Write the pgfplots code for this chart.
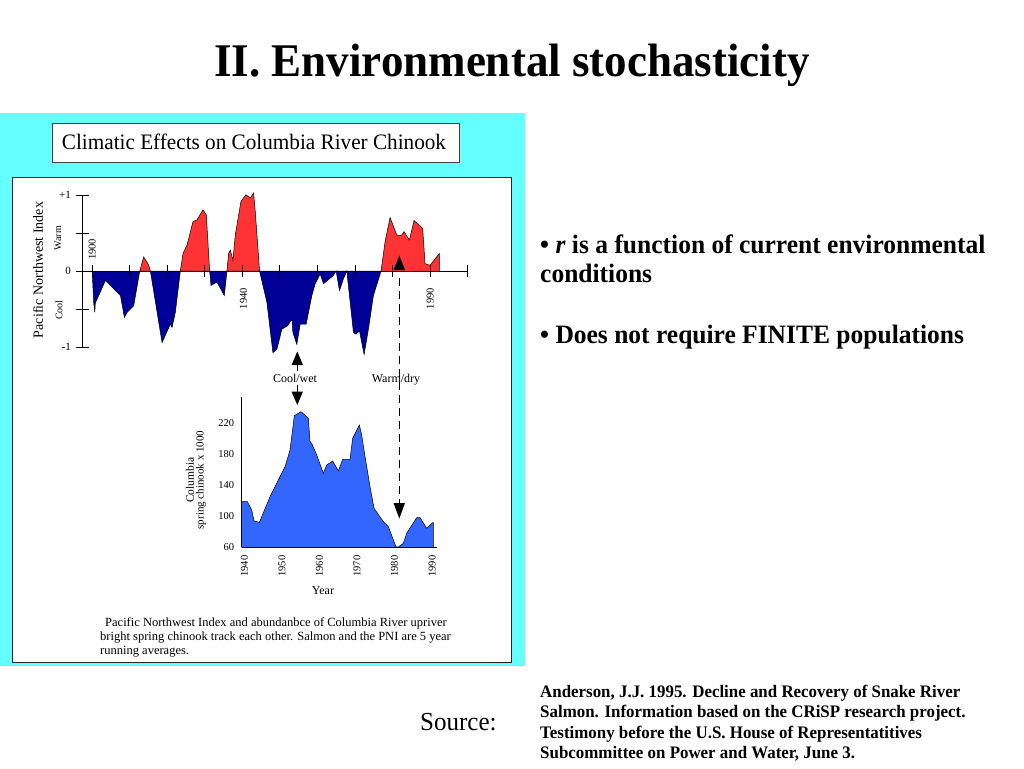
\documentclass[border=0pt]{standalone}
\usepackage{fontspec}
\setmainfont{Liberation Serif}
\usepackage{graphicx}
\usepackage{pgfplots}
\pgfplotsset{compat=1.18}
\definecolor{cyanbg}{HTML}{66FFFF}
\definecolor{pniblue}{HTML}{000099}
\definecolor{pnired}{HTML}{FF3333}
\definecolor{salmonblue}{HTML}{3366FF}
\newcommand{\fs}[1]{\fontsize{#1}{#1}\selectfont}
\newcommand{\vs}[1]{\scalebox{1}[1.04]{#1}}
\begin{document}
\begin{tikzpicture}
\path[use as bounding box] (0pt,0pt) rectangle (1024pt,-768pt);
% slide title
\node[anchor=base,inner sep=0pt] at (512pt,-76pt) {\vs{\fs{45}\bfseries II. Environmental stochasticity}};
% panel
\fill[cyanbg] (0pt,-113pt) rectangle (525pt,-666pt);
\draw[fill=white, line width=1pt, draw=black!85] (12pt,-177pt) rectangle (511pt,-662pt);
\draw[fill=white, line width=0.8pt, draw=black!75] (52pt,-123pt) rectangle (459pt,-162pt);
\node[anchor=base,inner sep=0pt] at (254pt,-149pt) {\vs{\fs{21.2}Climatic Effects on Columbia River Chinook}};

% ---------- Pacific Northwest Index ----------
\begin{axis}[at={(82pt,-347pt)}, anchor=south west, scale only axis,
  width=386pt, height=152pt, xmin=1897.3, xmax=2000.1, ymin=-1, ymax=1,
  hide axis, clip=false]
\addplot[fill=pnired, draw=black, line width=0.5pt] coordinates {
(1912.68,0) (1913.74,0.186) (1915.07,0.075) (1915.51,0)
(1923.49,0) (1924.20,0.230) (1925.27,0.341) (1926.86,0.650) (1927.93,0.673) (1929.52,0.805) (1930.41,0.739) (1931.29,0)
(1935.90,0) (1936.35,0.230) (1936.79,0.274) (1937.50,0.142) (1938.12,0.473) (1939.63,0.915) (1940.96,1.004) (1942.11,0.960) (1943.00,1.027) (1943.44,0.783) (1944.59,0)
(1976.95,0) (1978.01,0.385) (1979.34,0.704) (1981.12,0.473) (1982.45,0.473) (1983.07,0.518) (1984.49,0.407) (1985.73,0.664) (1988.03,0.562) (1988.65,0.097) (1990.00,0.075) (1992.46,0.230) (1992.46,0)
};
\addplot[fill=pniblue, draw=black, line width=0.5pt] coordinates {
(1900.0,0) (1900.44,-0.434) (1900.71,-0.544) (1900.85,-0.42) (1903.55,-0.124) (1907.54,-0.323) (1908.60,-0.611) (1909.31,-0.544) (1911.08,-0.456) (1912.68,0)
(1915.51,0) (1918.62,-0.942) (1920.83,-0.699) (1921.28,-0.743) (1922.16,-0.544) (1923.49,0)
(1931.29,0) (1931.65,-0.190) (1933.24,-0.146) (1935.20,-0.323) (1935.90,0)
(1944.59,0) (1946.54,-0.412) (1948.14,-1.075) (1949.20,-1.031) (1950.53,-0.765) (1952.04,-0.721) (1953.19,-0.633) (1953.46,-0.810) (1954.52,-0.965) (1955.41,-0.699) (1957.00,-0.699) (1958.51,-0.323) (1959.40,-0.168) (1960.73,-0.04) (1961.61,-0.168) (1964.27,-0.058) (1964.98,0) (1965.87,-0.257) (1966.93,-0.102) (1967.82,0) (1969.59,-0.810) (1970.30,-0.832) (1971.19,-0.788) (1972.43,-1.097) (1973.58,-0.765) (1974.91,-0.323) (1976.95,0)
};
\draw[line width=0.8pt] (axis cs:1897.3,0) ++(-6pt,0pt) -- (axis cs:2000,0);
\draw[line width=0.8pt] (axis cs:1897.3,-1) -- (axis cs:1897.3,1);
\pgfplotsinvokeforeach{-1,-0.5,0,0.5,1}{\draw[line width=0.8pt] (axis cs:1897.3,#1) ++(-6pt,0pt) -- ++(13pt,0pt);}
\pgfplotsinvokeforeach{1900,1910,1920,1930,1940,1950,1960,1970,1980,1990,2000}{\draw[line width=0.8pt] (axis cs:#1,0) ++(0pt,-6pt) -- ++(0pt,12pt);}
\node[anchor=east,inner sep=0pt,font=\fs{11}] at ([xshift=-11pt]axis cs:1897.3,1) {+1};
\node[anchor=east,inner sep=0pt,font=\fs{11}] at ([xshift=-11pt]axis cs:1897.3,0) {0};
\node[anchor=east,inner sep=0pt,font=\fs{11}] at ([xshift=-11pt]axis cs:1897.3,-1) {-1};
\node[anchor=west,rotate=90,inner sep=0pt,font=\fs{10.5}] at ([yshift=11pt]axis cs:1900,0) {1900};
\node[anchor=east,rotate=90,inner sep=0pt,font=\fs{10.5}] at ([yshift=-17pt,xshift=1pt]axis cs:1940,0) {1940};
\node[anchor=east,rotate=90,inner sep=0pt,font=\fs{10.5}] at ([yshift=-17pt]axis cs:1990,0) {1990};
\end{axis}
\node[rotate=90,inner sep=0pt,font=\fs{14}] at (38pt,-270pt) {Pacific Northwest Index};
\node[rotate=90,inner sep=0pt,font=\fs{10}] at (58pt,-238pt) {Warm};
\node[rotate=90,inner sep=0pt,font=\fs{10}] at (59pt,-310pt) {Cool};

% arrows
\fill (393.5pt,-270pt) -- (405pt,-270pt) -- (399.3pt,-255.5pt) -- cycle;
\draw[line width=1.2pt, dash pattern=on 8pt off 5pt] (399.3pt,-278pt) -- (399.3pt,-503pt);
\fill (393.5pt,-503pt) -- (405pt,-503pt) -- (399.3pt,-518.5pt) -- cycle;
\fill (291.5pt,-365pt) -- (303pt,-365pt) -- (297.3pt,-351.5pt) -- cycle;
\draw[line width=1.5pt] (297.3pt,-364pt) -- (297.3pt,-371pt);
\draw[line width=1.5pt] (297.3pt,-385pt) -- (297.3pt,-392pt);
\fill (291.5pt,-391.5pt) -- (303pt,-391.5pt) -- (297.3pt,-405pt) -- cycle;
\node[inner sep=0pt,font=\fs{12}] at (295pt,-378pt) {Cool/wet};
\node[inner sep=0pt,font=\fs{12}] at (396pt,-380pt) {Warm/dry};

% ---------- Columbia spring chinook ----------
\begin{axis}[at={(241.7pt,-547.3pt)}, anchor=south west, scale only axis,
  width=195pt, height=150.3pt, xmin=1939.82, xmax=1991.76, ymin=60, ymax=253,
  hide axis, clip=false]
\addplot[fill=salmonblue, draw=black, line width=0.5pt] coordinates {
(1939.82,60) (1939.82,118.6) (1941.33,118.6) (1942.49,107.9) (1943.11,93.8) (1944.53,92.1) (1947.37,125.0) (1950.03,150.7) (1951.36,163.5) (1952.69,184.9) (1953.85,229.0) (1955.62,234.1) (1957.13,227.7) (1957.57,225.6) (1958.02,195.6) (1958.46,193.5) (1959.80,178.5) (1961.57,155.0) (1962.46,165.7) (1964.06,170.8) (1965.57,158.0) (1966.72,173.0) (1968.67,173.0) (1969.38,199.9) (1971.16,217.0) (1971.78,204.2) (1972.67,176.4) (1974.00,137.9) (1975.06,110.1) (1977.55,92.9) (1978.88,86.5) (1980.92,60.5) (1981.54,60.5) (1982.88,65.1) (1983.77,78.0) (1986.43,98.1) (1987.32,98.1) (1989.09,84.4) (1990.69,91.7) (1990.87,91.7) (1990.87,60)
};
\draw[line width=0.8pt] (axis cs:1939.82,60) -- (axis cs:1939.82,253);
\draw[line width=0.8pt] (axis cs:1939.82,60) -- (axis cs:1991.76,60);
\pgfplotsinvokeforeach{60,100,140,180,220}{\node[anchor=east,inner sep=0pt,font=\fs{10.5}] at ([xshift=-7.5pt]axis cs:1939.82,#1) {#1};}
\pgfplotsinvokeforeach{1940,1950,1960,1970,1980,1990}{\node[anchor=east,rotate=90,inner sep=0pt,font=\fs{10.5}] at ([yshift=-8pt,xshift=2pt]axis cs:#1,60) {#1};}
\end{axis}
\node[inner sep=0pt,font=\fs{12}] at (323pt,-591pt) {Year};
\node[rotate=90,inner sep=0pt,font=\fs{11.5}] at (190pt,-480pt) {Columbia};
\node[rotate=90,inner sep=0pt,font=\fs{11}] at (201pt,-480pt) {spring chinook x 1000};

% caption
\node[anchor=base west,inner sep=0pt,font=\fs{12.5}] at (105pt,-626pt) {Pacific Northwest Index and abundanbce of Columbia River upriver};
\node[anchor=base west,inner sep=0pt,font=\fs{12.5}] at (100pt,-640pt) {bright spring chinook track each other. Salmon and the PNI are 5 year};
\node[anchor=base west,inner sep=0pt,font=\fs{12.5}] at (100pt,-654pt) {running averages.};

% right-hand text
\node[anchor=base west,inner sep=0pt] at (540pt,-253pt) {\vs{\fs{25.5}\bfseries • \textit{r} is a function of current environmental}};
\node[anchor=base west,inner sep=0pt] at (540pt,-282pt) {\vs{\fs{25.5}\bfseries conditions}};
\node[anchor=base west,inner sep=0pt] at (540pt,-343pt) {\vs{\fs{25.5}\bfseries • Does not require FINITE populations}};
\node[anchor=base west,inner sep=0pt] at (420pt,-730pt) {\vs{\fs{25}Source:}};
\node[anchor=base west,inner sep=0pt] at (540pt,-697pt) {\vs{\fs{16.9}\bfseries Anderson, J.J. 1995. Decline and Recovery of Snake River}};
\node[anchor=base west,inner sep=0pt] at (540pt,-717.5pt) {\vs{\fs{16.9}\bfseries Salmon. Information based on the CRiSP research project.}};
\node[anchor=base west,inner sep=0pt] at (540pt,-738pt) {\vs{\fs{16.9}\bfseries Testimony before the U.S. House of Representatitives}};
\node[anchor=base west,inner sep=0pt] at (540pt,-758.5pt) {\vs{\fs{16.9}\bfseries Subcommittee on Power and Water, June 3.}};
\end{tikzpicture}
\end{document}
